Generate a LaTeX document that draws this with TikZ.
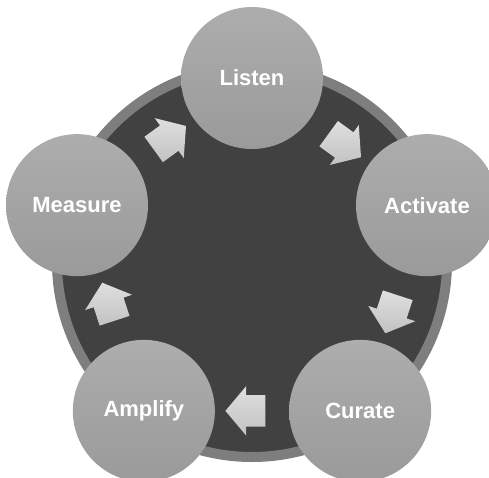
\documentclass[tikz,border=0pt]{standalone}
\usepackage{fontspec}
\setmainfont{Liberation Sans}
\usetikzlibrary{positioning}
\usetikzlibrary{shapes.arrows}

\definecolor{hubdark}{HTML}{414141}
\definecolor{hubring}{HTML}{7E7E7E}
\definecolor{stagetop}{HTML}{ADADAD}
\definecolor{stagebot}{HTML}{9A9A9A}
\definecolor{arrowtop}{HTML}{DFDFDF}
\definecolor{arrowbot}{HTML}{C2C2C2}

\tikzset{
  stage/.style={circle, minimum size=142pt, inner sep=0pt,
    top color=stagetop, bottom color=stagebot, text=white,
    font=\fontsize{22}{26}\selectfont\bfseries},
  blockarrow/.style={single arrow, minimum height=40pt,
    inner xsep=0pt, inner ysep=15.5pt,
    single arrow head extend=9pt, single arrow tip angle=100,
    top color=arrowtop, bottom color=arrowbot, sloped, allow upside down}
}

\begin{document}
\begin{tikzpicture}[x=1pt, y=1pt]
  \useasboundingbox (-252,-215) rectangle (237,262);
  % hub disk with rim
  \node[circle, minimum size=390pt, fill=hubdark, draw=hubring, line width=10pt] (hub) at (0,0) {};
  % five stages
  \node[stage] (listen)   at (90:184)   {Listen};
  \node[stage] (activate) at (18:184)   {Activate};
  \node[stage] (curate)   at (-54:184)  {Curate};
  \node[stage] (amplify)  at (-126:184) {Amplify};
  \node[stage] (measure)  at (162:184)  {Measure};
  % block arrows between stages
  \path (listen)   -- node[blockarrow] (la) {} (activate)
        (activate) -- node[blockarrow] (ac) {} (curate)
        (curate)   -- node[blockarrow] (ca) {} (amplify)
        (amplify)  -- node[blockarrow] (am) {} (measure)
        (measure)  -- node[blockarrow] (ml) {} (listen);
\end{tikzpicture}
\end{document}
